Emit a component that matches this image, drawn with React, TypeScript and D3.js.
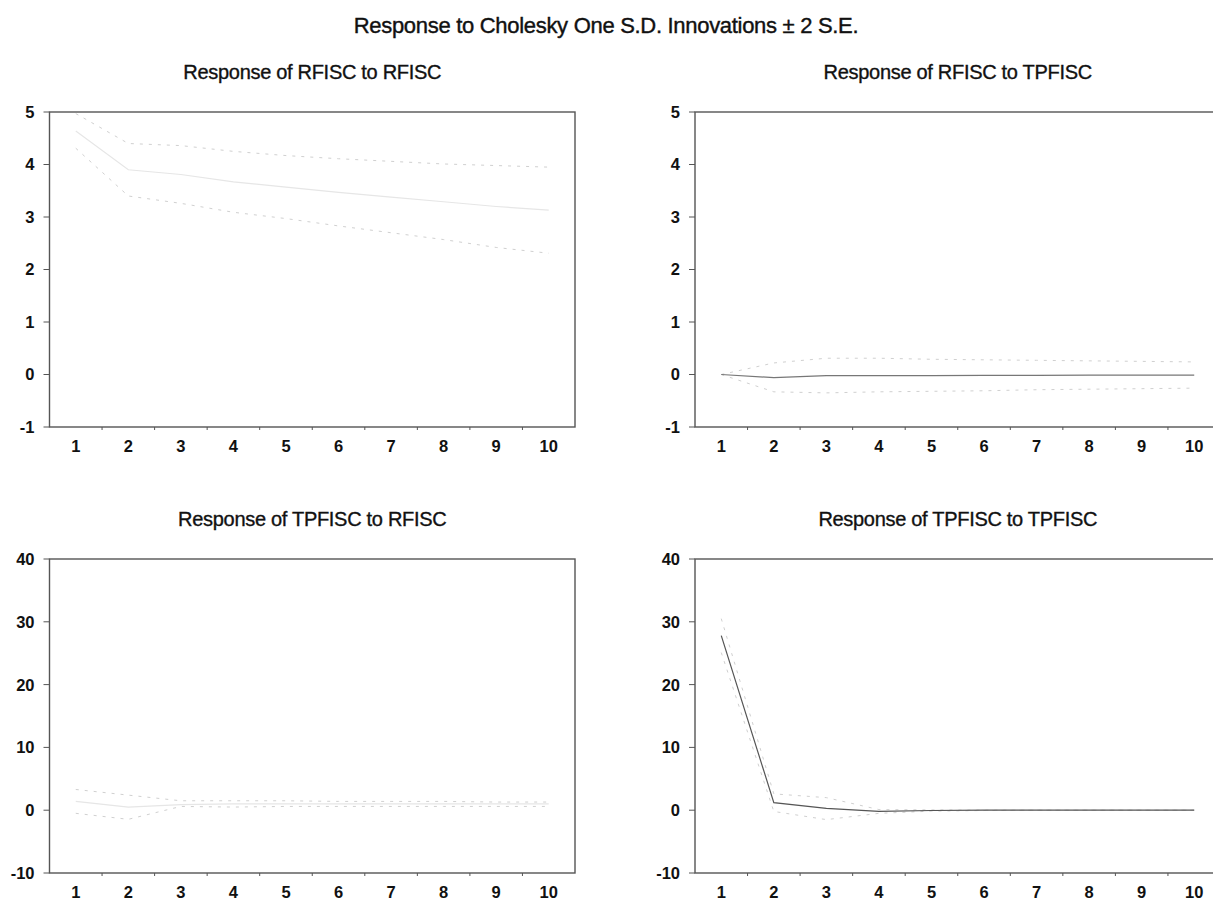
import React from "react";
import * as d3 from "d3";

const periods = [1, 2, 3, 4, 5, 6, 7, 8, 9, 10];

// Response of RFISC to RFISC
const rrResp = [4.64, 3.9, 3.81, 3.67, 3.57, 3.47, 3.38, 3.29, 3.2, 3.13];
const rrUpper = [4.97, 4.4, 4.36, 4.25, 4.17, 4.11, 4.06, 4.01, 3.98, 3.95];
const rrLower = [4.31, 3.4, 3.26, 3.09, 2.97, 2.83, 2.7, 2.57, 2.42, 2.31];

// Response of RFISC to TPFISC
const rtResp = [0, -0.06, -0.02, -0.02, -0.02, -0.015, -0.015, -0.01, -0.01, -0.01];
const rtUpper = [0, 0.22, 0.31, 0.31, 0.29, 0.28, 0.27, 0.26, 0.25, 0.24];
const rtLower = [0, -0.33, -0.35, -0.33, -0.32, -0.31, -0.29, -0.28, -0.27, -0.26];

// Response of TPFISC to RFISC
const trResp = [1.4, 0.5, 0.9, 1.0, 1.0, 1.0, 1.0, 1.0, 1.0, 1.0];
const trUpper = [3.3, 2.4, 1.5, 1.5, 1.5, 1.4, 1.4, 1.4, 1.3, 1.3];
const trLower = [-0.5, -1.45, 0.6, 0.5, 0.6, 0.6, 0.6, 0.6, 0.6, 0.6];

// Response of TPFISC to TPFISC
const ttResp = [27.8, 1.2, 0.3, -0.2, -0.05, 0, 0, 0, 0, 0];
const ttUpper = [30.5, 2.6, 2.0, 0.1, 0.05, 0, 0, 0, 0, 0];
const ttLower = [25.1, -0.2, -1.5, -0.5, -0.15, -0.05, 0, 0, 0, 0];

const topTicks = [-1, 0, 1, 2, 3, 4, 5];
const bottomTicks = [-10, 0, 10, 20, 30, 40];

const mainTitle = "Response to Cholesky One S.D. Innovations \u00B1 2 S.E.";
const panelTitles = [
  "Response of RFISC to RFISC",
  "Response of RFISC to TPFISC",
  "Response of TPFISC to RFISC",
  "Response of TPFISC to TPFISC",
];

const FONT = "'Liberation Sans', Arial, Helvetica, sans-serif";

type PanelProps = {
  title: string;
  left: number;
  top: number;
  width: number;
  height: number;
  ticks: number[];
  resp: number[];
  upper: number[];
  lower: number[];
  respColor: string;
};

function Panel(p: PanelProps) {
  const x = d3.scaleLinear().domain([0.5, 10.5]).range([p.left, p.left + p.width]);
  const y = d3
    .scaleLinear()
    .domain([p.ticks[0], p.ticks[p.ticks.length - 1]])
    .range([p.top + p.height, p.top]);
  const line = d3
    .line<number>()
    .x((_, i) => x(periods[i]))
    .y((d) => y(d));
  const bottom = p.top + p.height;
  const boundaries = d3.range(1, 10).map((i) => i + 0.5);
  return (
    <g>
      <text
        x={p.left + p.width / 2}
        y={p.top - 33}
        textAnchor="middle"
        fontFamily={FONT}
        fontSize={20}
        fill="#111"
        stroke="#111"
        strokeWidth={0.35}
        letterSpacing={-0.3}
      >
        {p.title}
      </text>
      <path d={line(p.upper) || ""} fill="none" stroke="#d0d0d0" strokeWidth={1} strokeDasharray="3,6" />
      <path d={line(p.lower) || ""} fill="none" stroke="#d0d0d0" strokeWidth={1} strokeDasharray="3,6" />
      <path d={line(p.resp) || ""} fill="none" stroke={p.respColor} strokeWidth={1.2} />
      <rect
        x={p.left}
        y={p.top}
        width={p.width}
        height={p.height}
        fill="none"
        stroke="#555"
        strokeWidth={1.4}
      />
      {p.ticks.map((t) => (
        <g key={t}>
          <line x1={p.left - 6} x2={p.left} y1={y(t)} y2={y(t)} stroke="#555" strokeWidth={1} />
          <text
            x={p.left - 15}
            y={y(t)}
            dy="0.36em"
            textAnchor="end"
            fontFamily={FONT}
            fontSize={16.5}
            fontWeight="bold"
            fill="#111"
          >
            {t}
          </text>
        </g>
      ))}
      {boundaries.map((b) => (
        <line key={b} x1={x(b)} x2={x(b)} y1={bottom} y2={bottom + 3} stroke="#555" strokeWidth={1} />
      ))}
      {periods.map((d) => (
        <text
          key={d}
          x={x(d)}
          y={bottom + 19}
          dy="0.36em"
          textAnchor="middle"
          fontFamily={FONT}
          fontSize={16.5}
          fontWeight="bold"
          fill="#111"
        >
          {d}
        </text>
      ))}
    </g>
  );
}

export default function App() {
  const W = 1213;
  const H = 900;
  const pw = 525.5;
  return (
    <svg
      width={W}
      height={H}
      style={{ position: "absolute", left: 0, top: 0, background: "#fff" }}
    >
      <rect x={0} y={0} width={W} height={H} fill="#fff" />
      <text
        x={606}
        y={33}
        textAnchor="middle"
        fontFamily={FONT}
        fontSize={22}
        fill="#111"
        stroke="#111"
        strokeWidth={0.4}
        letterSpacing={-0.3}
      >
        {mainTitle}
      </text>
      <Panel
        title={panelTitles[0]}
        left={49.5}
        top={112}
        width={pw}
        height={315}
        ticks={topTicks}
        resp={rrResp}
        upper={rrUpper}
        lower={rrLower}
        respColor="#e6e6e6"
      />
      <Panel
        title={panelTitles[1]}
        left={695}
        top={112}
        width={pw}
        height={315}
        ticks={topTicks}
        resp={rtResp}
        upper={rtUpper}
        lower={rtLower}
        respColor="#777"
      />
      <Panel
        title={panelTitles[2]}
        left={49.5}
        top={559}
        width={pw}
        height={314}
        ticks={bottomTicks}
        resp={trResp}
        upper={trUpper}
        lower={trLower}
        respColor="#e6e6e6"
      />
      <Panel
        title={panelTitles[3]}
        left={695}
        top={559}
        width={pw}
        height={314}
        ticks={bottomTicks}
        resp={ttResp}
        upper={ttUpper}
        lower={ttLower}
        respColor="#555"
      />
    </svg>
  );
}
